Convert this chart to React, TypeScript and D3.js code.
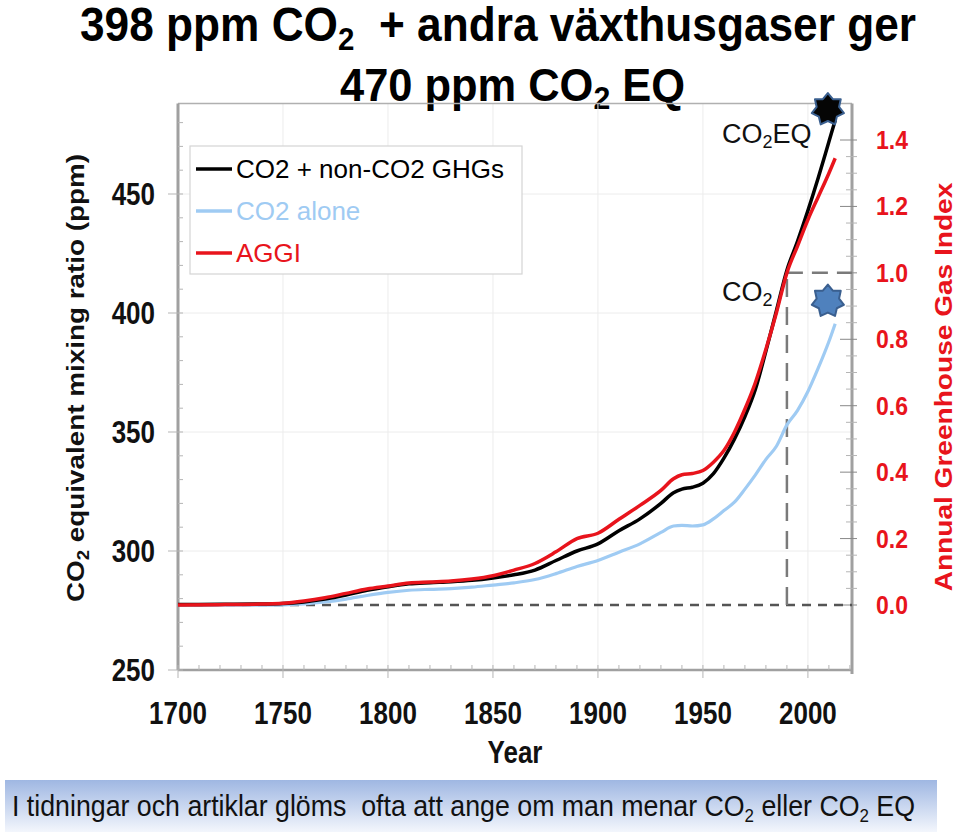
import { curveMonotoneX, line, range, scaleLinear } from "d3";

// years
const years = [
  1700, 1720, 1740, 1750, 1760, 1770, 1780, 1790, 1800, 1810, 1820, 1830, 1840, 1850, 1860, 1870, 1880,
  1890, 1900, 1910, 1920, 1930, 1936, 1940, 1945, 1950, 1955, 1960, 1965, 1970, 1975, 1980, 1985, 1990,
  1995, 2000, 2005, 2010, 2013,
];
// CO2 + non-CO2 GHGs (ppm, left axis)
const co2eq = [
  277.5, 277.6, 277.7, 277.9, 278.6, 279.8, 281.5, 283.5, 285, 286.2, 286.7, 287.1, 287.7, 288.7, 290, 292, 296,
  300, 303, 308.5, 313.5, 320, 324.5, 326, 326.8, 328.5, 332.5, 339, 347, 356.5, 368, 384, 401, 418,
  430, 443, 457, 472, 481,
];
// CO2 alone (ppm, left axis)
const co2Alone = [
  277.3, 277.3, 277.3, 277.4, 277.8, 278.6, 279.8, 281.3, 282.6, 283.5, 283.9, 284.2, 284.8, 285.7, 286.6, 288, 290.5,
  293.5, 296, 299.5, 303, 307.8, 310.5, 310.8, 310.5, 311, 313.5, 317, 320.5, 326, 332, 338.5, 344, 353,
  359, 367, 377, 388, 395.5,
];
// AGGI (index, right axis)
const aggi = [
  0, 0.001, 0.003, 0.005, 0.012, 0.022, 0.035, 0.048, 0.057, 0.066, 0.069, 0.072, 0.078, 0.088, 0.105, 0.125, 0.16,
  0.2, 0.216, 0.258, 0.3, 0.345, 0.38, 0.392, 0.396, 0.405, 0.43, 0.465, 0.52, 0.59, 0.67, 0.77, 0.88, 1.0,
  1.08, 1.16, 1.23, 1.3, 1.345,
];

const yearTicks = [1700, 1750, 1800, 1850, 1900, 1950, 2000];
const ppmTicks = [250, 300, 350, 400, 450];
const aggiTicks = [0, 0.2, 0.4, 0.6, 0.8, 1.0, 1.2, 1.4];

const legendItems = [
  { label: "CO2 + non-CO2 GHGs", color: "#000000" },
  { label: "CO2 alone", color: "#9fcbf3" },
  { label: "AGGI", color: "#e8141c" },
];

const refYear = 1990;
const refAggi = 1;
const stars = [
  { year: 2009.5, ppm: 485.5, fill: "#050505" },
  { year: 2009.5, ppm: 405, fill: "#4f81bd" },
];

const W = 960;
const H = 832;
const left = 178;
const right = 852;
const bottom = 670;

function starPath(cx: number, cy: number, R: number, r: number, n = 7) {
  const pts: string[] = [];
  for (let i = 0; i < n * 2; i++) {
    const rad = i % 2 === 0 ? R : r;
    const a = -Math.PI / 2 + (i * Math.PI) / n;
    pts.push(`${(cx + rad * Math.cos(a)).toFixed(2)},${(cy + rad * Math.sin(a)).toFixed(2)}`);
  }
  return `M${pts.join("L")}Z`;
}

export default function App() {
  const x = scaleLinear().domain([1700, 2021]).range([left, right]);
  const yL = scaleLinear().domain([250, 488]).range([bottom, bottom - 238 * 2.38]);
  const yR = scaleLinear().domain([0, 1.4]).range([605, 140]);
  const top = yL(488);

  const ppmLine = (vals: number[]) =>
    line<number>()
      .x((_, i) => x(years[i]))
      .y((v) => yL(v))
      .curve(curveMonotoneX)(vals) ?? "";
  const aggiPath =
    line<number>()
      .x((_, i) => x(years[i]))
      .y((v) => yR(v))
      .curve(curveMonotoneX)(aggi) ?? "";

  const font = "'Liberation Sans', Arial, sans-serif";
  const narrow = "'Liberation Sans Narrow', 'Liberation Sans', Arial, sans-serif";

  return (
    <svg
      width={W}
      height={H}
      viewBox={`0 0 ${W} ${H}`}
      style={{ position: "absolute", left: 0, top: 0, background: "#fff" }}
    >
      <defs>
        <linearGradient id="band" x1="0" y1="0" x2="0" y2="1">
          <stop offset="0" stopColor="#9fb7e2" />
          <stop offset="1" stopColor="#f3f6fc" />
        </linearGradient>
      </defs>

      {/* title */}
      <text x={80} y={41} fontFamily={narrow} fontWeight="bold" fontSize={48} textLength={836} lengthAdjust="spacingAndGlyphs" style={{ whiteSpace: "pre" }}>
        398 ppm CO<tspan fontSize={32} dy={9}>2</tspan>
        <tspan dy={-9}>{"  + andra växthusgaser ger"}</tspan>
      </text>
      <text x={340} y={101} fontFamily={narrow} fontWeight="bold" fontSize={46} textLength={345} lengthAdjust="spacingAndGlyphs">
        470 ppm CO<tspan fontSize={32} dy={8}>2</tspan>
        <tspan dy={-8}>{" EQ"}</tspan>
      </text>

      {/* grid */}
      {yearTicks.slice(1).map((t) => (
        <line key={`gx${t}`} x1={x(t)} x2={x(t)} y1={top} y2={bottom} stroke="#ececec" strokeWidth={1} />
      ))}
      {ppmTicks.slice(1).map((t) => (
        <line key={`gy${t}`} x1={left} x2={right} y1={yL(t)} y2={yL(t)} stroke="#ececec" strokeWidth={1} />
      ))}

      {/* frame */}
      <line x1={left} x2={right} y1={top} y2={top} stroke="#b0b0b0" strokeWidth={1.5} />
      <line x1={left} x2={right} y1={bottom} y2={bottom} stroke="#a0a0a0" strokeWidth={2.5} />
      <line x1={left} x2={left} y1={top} y2={bottom} stroke="#a0a0a0" strokeWidth={3} />
      <line x1={right} x2={right} y1={top} y2={bottom + 4} stroke="#a0a0a0" strokeWidth={3} />

      {/* ticks */}
      {range(1700, 2021, 10).map((t) => (
        <line key={`tx${t}`} x1={x(t)} x2={x(t)} y1={bottom - 5} y2={t % 50 === 0 ? bottom + 8 : bottom} stroke="#b5b5b5" strokeWidth={1} />
      ))}
      {range(250, 489, 10).map((t) => (
        <line key={`ty${t}`} x1={t % 50 === 0 ? left - 10 : left} x2={left + 5} y1={yL(t)} y2={yL(t)} stroke="#b5b5b5" strokeWidth={1} />
      ))}
      {range(0, 29).map((i) => {
        const v = i * 0.05;
        const major = i % 4 === 0;
        return (
          <line key={`tr${i}`} x1={right - (major ? 12 : 6)} x2={right + 5} y1={yR(v)} y2={yR(v)} stroke={major ? "#888" : "#b5b5b5"} strokeWidth={1} />
        );
      })}

      {/* tick labels */}
      {yearTicks.map((t) => (
        <text key={`lx${t}`} transform={`translate(${x(t)},${724}) scale(1,1.18)`} textAnchor="middle" fontFamily={font} fontWeight="bold" fontSize={26} fill="#111">
          {t}
        </text>
      ))}
      {ppmTicks.map((t) => (
        <text key={`ly${t}`} transform={`translate(${155},${yL(t) + 11}) scale(1,1.18)`} textAnchor="end" fontFamily={font} fontWeight="bold" fontSize={26} fill="#111">
          {t}
        </text>
      ))}
      {aggiTicks.map((t) => (
        <text key={`lr${t}`} transform={`translate(${876},${yR(t) + 9}) scale(1,1.15)`} fontFamily={font} fontWeight="bold" fontSize={23} fill="#e8141c">
          {t.toFixed(1)}
        </text>
      ))}

      {/* axis titles */}
      <text transform={`translate(${515},${763}) scale(1,1.18)`} textAnchor="middle" fontFamily={font} fontWeight="bold" fontSize={26} fill="#111">
        Year
      </text>
      <text transform={`translate(${84},${378}) rotate(-90) scale(1.16,1)`} textAnchor="middle" fontFamily={font} fontWeight="bold" fontSize={24} fill="#111">
        CO<tspan fontSize={16} dy={5}>2</tspan>
        <tspan dy={-5}> equivalent mixing ratio (ppm)</tspan>
      </text>
      <text transform={`translate(${952},${387}) rotate(-90) scale(1.17,1)`} textAnchor="middle" fontFamily={font} fontWeight="bold" fontSize={24} fill="#e8141c">
        Annual Greenhouse Gas Index
      </text>

      {/* reference dashes */}
      <line x1={left} x2={right} y1={yR(0)} y2={yR(0)} stroke="#555" strokeWidth={2.5} strokeDasharray="9,7" />
      <line x1={x(refYear)} x2={x(refYear)} y1={yR(0)} y2={yR(refAggi)} stroke="#7a7a7a" strokeWidth={2.5} strokeDasharray="18,10" />
      <line x1={x(refYear)} x2={right} y1={yR(refAggi)} y2={yR(refAggi)} stroke="#7a7a7a" strokeWidth={2.5} strokeDasharray="16,9" />

      {/* series */}
      <path d={ppmLine(co2Alone)} fill="none" stroke={legendItems[1].color} strokeWidth={3.2} strokeLinejoin="round" />
      <path d={ppmLine(co2eq)} fill="none" stroke={legendItems[0].color} strokeWidth={3.5} strokeLinejoin="round" />
      <path d={aggiPath} fill="none" stroke={legendItems[2].color} strokeWidth={3.5} strokeLinejoin="round" />

      {/* legend */}
      <rect x={190} y={146} width={332} height={128} fill="#fff" stroke="#d4d4d4" strokeWidth={1.2} />
      {legendItems.map((d, i) => (
        <g key={d.label} transform={`translate(196,${169 + i * 42})`}>
          <line x1={0} x2={36} y1={0} y2={0} stroke={d.color} strokeWidth={3.5} />
          <text x={40} y={9} fontFamily={font} fontSize={26} fill={d.color}>
            {d.label}
          </text>
        </g>
      ))}

      {/* annotations */}
      <text x={722} y={143} fontFamily={narrow} fontSize={27} fill="#111">
        CO<tspan fontSize={18} dy={5}>2</tspan>
        <tspan dy={-5}>EQ</tspan>
      </text>
      <text x={722} y={301} fontFamily={narrow} fontSize={27} fill="#111">
        CO<tspan fontSize={18} dy={5}>2</tspan>
      </text>
      {stars.map((s) => (
        <path key={s.ppm} d={starPath(x(s.year), yL(s.ppm), 16.5, 11.5)} fill={s.fill} stroke="#3a5f8f" strokeWidth={2} strokeLinejoin="round" />
      ))}

      {/* bottom banner */}
      <rect x={5} y={780} width={932} height={52} fill="url(#band)" />
      <text x={12} y={816} fontFamily={narrow} fontSize={30} fill="#111" textLength={903} lengthAdjust="spacingAndGlyphs" style={{ whiteSpace: "pre" }}>
        {"I tidningar och artiklar glöms  ofta att ange om man menar CO"}
        <tspan fontSize={19} dy={6}>2</tspan>
        <tspan dy={-6}>{" eller CO"}</tspan>
        <tspan fontSize={19} dy={6}>2</tspan>
        <tspan dy={-6}>{" EQ"}</tspan>
      </text>
    </svg>
  );
}
